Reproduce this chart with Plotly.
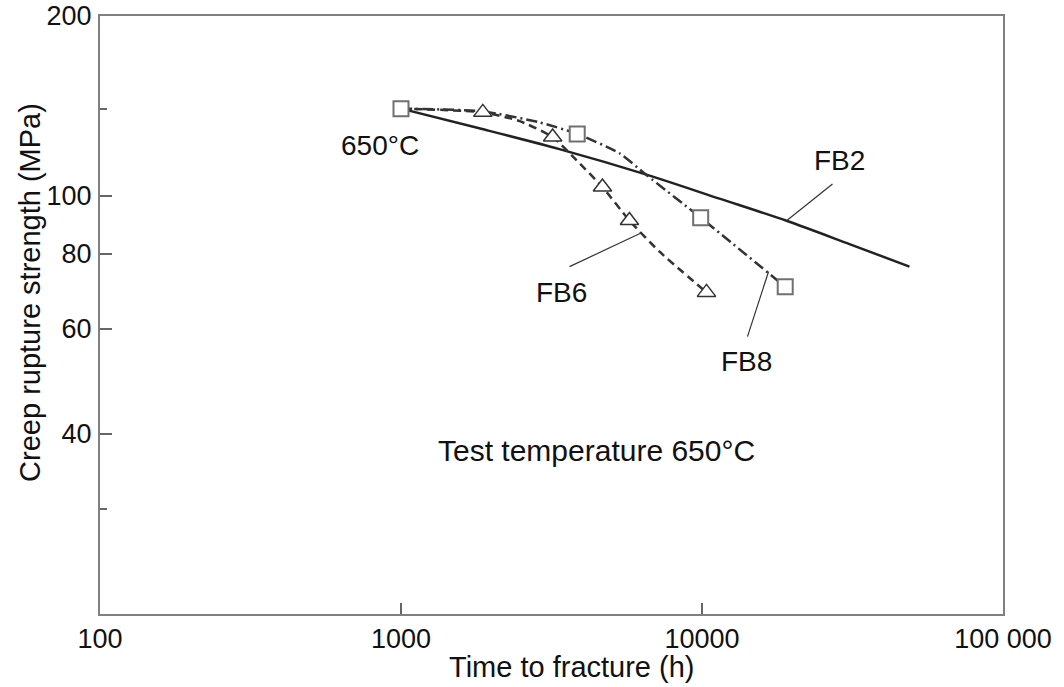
import math
import plotly.graph_objects as go

# ---- data ----
fb2_curve_t = [1000, 1820, 3360, 6540, 11430, 19090, 30900, 48900]
fb2_curve_s = [140, 129.8, 119.8, 108.6, 99.0, 90.9, 83.1, 76.2]

fb8_curve_t = [1000, 1870, 2880, 3850, 5320, 6540, 9900, 18900]
fb8_curve_s = [140, 138.5, 132.8, 127, 117.9, 108.4, 92, 70.5]
fb8_pts_t = [1000, 3850, 9900, 18900]
fb8_pts_s = [140, 127, 92, 70.5]

fb6_curve_t = [1000, 1870, 2480, 3190, 3770, 4670, 5740, 7230, 10350]
fb6_curve_s = [140, 138, 133.4, 125.5, 115.7, 103.5, 91, 80.7, 69]
fb6_pts_t = [1870, 3190, 4670, 5740, 10350]
fb6_pts_s = [138, 125.5, 103.5, 91, 69]

x_tickvals = [100, 1000, 10000, 100000]
x_ticktext = ["100", "1000", "10000", "100 000"]
y_tickvals = [40, 60, 80, 100, 200]
y_ticktext = ["40", "60", "80", "100", "200"]
y_minor_vals = [30, 140]

# leader lines (label pointers)
lead_fb2_t, lead_fb2_s = [27140, 19090], [104.7, 90.9]
lead_fb6_t, lead_fb6_s = [3630, 6300], [76.2, 86.8]
lead_fb8_t, lead_fb8_s = [14160, 16630], [58.2, 74.7]

FONT = "Liberation Sans, Arial, sans-serif"
TXT = "#111111"

fig = go.Figure()

fig.add_trace(go.Scatter(x=fb2_curve_t, y=fb2_curve_s, mode="lines",
                         line=dict(color="#222222", width=2.5, shape="spline", smoothing=0.8),
                         showlegend=False, hoverinfo="skip"))
fig.add_trace(go.Scatter(x=fb6_curve_t, y=fb6_curve_s, mode="lines",
                         line=dict(color="#333333", width=2.5, dash="8px,5px", shape="spline", smoothing=0.6),
                         showlegend=False, hoverinfo="skip"))
fig.add_trace(go.Scatter(x=fb8_curve_t, y=fb8_curve_s, mode="lines",
                         line=dict(color="#333333", width=2.5, dash="11px,4px,2px,4px", shape="spline", smoothing=0.6),
                         showlegend=False, hoverinfo="skip"))

for lt, ls in [(lead_fb2_t, lead_fb2_s), (lead_fb6_t, lead_fb6_s), (lead_fb8_t, lead_fb8_s)]:
    fig.add_trace(go.Scatter(x=lt, y=ls, mode="lines",
                             line=dict(color="#333333", width=1.2),
                             showlegend=False, hoverinfo="skip"))

fig.add_trace(go.Scatter(x=fb6_pts_t, y=fb6_pts_s, mode="markers",
                         marker=dict(symbol="triangle-up", size=16, color="white",
                                     line=dict(color="#333333", width=1.5)),
                         showlegend=False))
fig.add_trace(go.Scatter(x=fb8_pts_t, y=fb8_pts_s, mode="markers",
                         marker=dict(symbol="square", size=15, color="white",
                                     line=dict(color="#707070", width=2)),
                         showlegend=False))

def ann(text, t, s, size):
    return dict(text=text, x=math.log10(t), y=math.log10(s), xref="x", yref="y",
                showarrow=False, xanchor="center", yanchor="middle",
                font=dict(family=FONT, size=size, color=TXT))

annotations = [
    ann("650°C", 850, 121.5, 28),
    ann("FB2", 28640, 114.8, 28),
    ann("FB6", 3410, 68.9, 28),
    ann("FB8", 14060, 52.9, 28),
    ann("Test temperature 650°C", 4460, 37.5, 30),
    dict(text="Creep rupture strength (MPa)", textangle=-90, xref="paper", yref="paper",
         x=-0.0775, y=0.537, showarrow=False, xanchor="center", yanchor="middle",
         font=dict(family=FONT, size=29, color=TXT)),
    dict(text="Time to fracture (h)", xref="paper", yref="paper",
         x=0.5216, y=-0.089, showarrow=False, xanchor="center", yanchor="middle",
         font=dict(family=FONT, size=29, color=TXT)),
]

fig.update_layout(
    width=1064, height=687, autosize=False,
    margin=dict(l=100, r=61, t=16, b=73, pad=0),
    paper_bgcolor="white", plot_bgcolor="white",
    font=dict(family=FONT, size=27, color=TXT),
    annotations=annotations,
    xaxis=dict(type="log", range=[2, 5], tickmode="array", tickvals=x_tickvals, ticktext=x_ticktext,
               ticks="inside", ticklen=11, tickwidth=1.5, tickcolor="#666666",
               showline=True, mirror=True, linecolor="#808080", linewidth=2,
               showgrid=False, zeroline=False, ticklabelstandoff=0, automargin=False,
               tickfont=dict(family=FONT, size=27, color=TXT)),
    yaxis=dict(type="log", range=[math.log10(20), math.log10(200)], tickmode="array",
               tickvals=y_tickvals, ticktext=y_ticktext,
               ticks="inside", ticklen=12, tickwidth=1.5, tickcolor="#666666",
               minor=dict(tickmode="array", tickvals=y_minor_vals, ticks="inside", ticklen=7,
                          tickwidth=1.5, tickcolor="#666666", showgrid=False),
               showline=True, mirror=True, linecolor="#808080", linewidth=2,
               showgrid=False, zeroline=False, ticklabelstandoff=1, automargin=False,
               tickfont=dict(family=FONT, size=27, color=TXT)),
)

fig.write_html("out.html")
